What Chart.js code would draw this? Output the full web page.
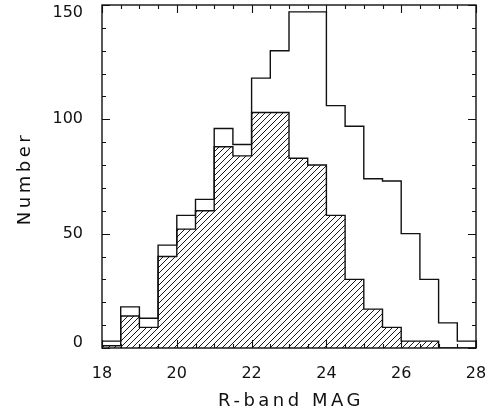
<!DOCTYPE html>
<html>
<head>
<meta charset="utf-8">
<script src="https://cdn.jsdelivr.net/npm/chart.js@4.4.1/dist/chart.umd.min.js"></script>
<style>
  html, body { margin: 0; padding: 0; background: #fff; }
  #wrap { width: 502px; height: 415px; }
</style>
</head>
<body>
<div id="wrap"><canvas id="magHist" width="502" height="415"></canvas></div>
<script>
// histogram bins, 0.5 mag wide
const binEdges = [18, 18.5, 19, 19.5, 20, 20.5, 21, 21.5, 22, 22.5, 23,
                  23.5, 24, 24.5, 25, 25.5, 26, 26.5, 27, 27.5, 28];
// whole sample (open outline)
const allCounts = [3, 18, 13, 45, 58, 65, 96, 89, 118, 130,
                   147, 147, 106, 97, 74, 73, 50, 30, 11, 3];
// sub-sample (hatched)
const hatchedCounts = [1, 14, 9, 40, 52, 60, 88, 84, 103, 103,
                       83, 80, 58, 30, 17, 9, 3, 3, 0, 0];

const xTicks = [18, 20, 22, 24, 26, 28];
const yTicks = [0, 50, 100, 150];
const xTitle = 'R-band MAG';
const yTitle = 'Number';

const INK = '#111';

// bin counts -> points for a stepped line (left edge of each bin)
function stepPoints(counts) {
    const last = binEdges.length - 1;
    const pts = [{ x: binEdges[0], y: 0 }];
    counts.forEach((c, i) => pts.push({ x: binEdges[i], y: c }));
    pts.push({ x: binEdges[last], y: counts[counts.length - 1] });
    pts.push({ x: binEdges[last], y: 0 });
    return pts;
}

function makeHatch() {
    const c = document.createElement('canvas');
    c.width = 6; c.height = 6;
    const g = c.getContext('2d');
    g.strokeStyle = '#000';
    g.lineWidth = 0.9;
    g.beginPath();
    g.moveTo(0, 6); g.lineTo(6, 0);
    g.moveTo(-1, 1); g.lineTo(1, -1);
    g.moveTo(5, 7); g.lineTo(7, 5);
    g.stroke();
    return g.createPattern(c, 'repeat');
}

// IDL style box: frame, inward ticks on all four sides, y labels, axis titles
const idlFrame = {
    id: 'idlFrame',
    afterDatasetsDraw(chart) {
        const { ctx, chartArea: a, scales: { x, y } } = chart;
        ctx.save();
        ctx.strokeStyle = INK;
        ctx.lineWidth = 1.4;
        ctx.strokeRect(a.left, a.top, a.right - a.left, a.bottom - a.top);

        ctx.lineWidth = 1.1;
        ctx.beginPath();
        for (let v = x.min; v <= x.max + 1e-6; v += 0.5) {
            const len = Math.abs(v % 2) < 1e-6 ? 8 : 4;
            const px = Math.round(x.getPixelForValue(v)) + 0.5;
            ctx.moveTo(px, a.bottom); ctx.lineTo(px, a.bottom - len);
            ctx.moveTo(px, a.top); ctx.lineTo(px, a.top + len);
        }
        for (let v = y.min; v <= y.max + 1e-6; v += 10) {
            const len = v % 50 === 0 ? 8 : 4;
            const py = Math.round(y.getPixelForValue(v)) + 0.5;
            ctx.moveTo(a.left, py); ctx.lineTo(a.left + len, py);
            ctx.moveTo(a.right, py); ctx.lineTo(a.right - len, py);
        }
        ctx.stroke();

        // y tick labels, end ones pulled inside the box like the original
        ctx.fillStyle = INK;
        ctx.font = '16px "DejaVu Sans"';
        ctx.textAlign = 'right';
        ctx.textBaseline = 'middle';
        yTicks.forEach((v, i) => {
            let shift = 0;
            if (i === 0) shift = -5;
            if (i === yTicks.length - 1) shift = 8;
            ctx.fillText(String(v), a.left - 19, y.getPixelForValue(v) + shift);
        });

        ctx.font = '18px "DejaVu Sans"';
        ctx.letterSpacing = '3.5px';
        ctx.textAlign = 'center';
        ctx.textBaseline = 'alphabetic';
        ctx.fillText(xTitle, (a.left + a.right) / 2 + 2, 406);
        ctx.translate(30, (a.top + a.bottom) / 2 + 2);
        ctx.rotate(-Math.PI / 2);
        ctx.fillText(yTitle, 0, 0);
        ctx.restore();
    }
};

new Chart(document.getElementById('magHist'), {
    type: 'line',
    data: {
        datasets: [
            {
                label: 'hatched',
                data: stepPoints(hatchedCounts),
                stepped: 'before',
                borderColor: INK,
                borderWidth: 1.4,
                backgroundColor: makeHatch(),
                fill: 'origin',
                pointRadius: 0,
                tension: 0
            },
            {
                label: 'all',
                data: stepPoints(allCounts),
                stepped: 'before',
                borderColor: INK,
                borderWidth: 1.4,
                fill: false,
                pointRadius: 0,
                tension: 0
            }
        ]
    },
    options: {
        responsive: false,
        animation: false,
        layout: { padding: { top: 5, right: 26, left: 0, bottom: 0 } },
        plugins: { legend: { display: false }, tooltip: { enabled: false } },
        scales: {
            x: {
                type: 'linear',
                min: 18, max: 28,
                afterBuildTicks: s => { s.ticks = xTicks.map(v => ({ value: v })); },
                afterFit: s => { s.height = 67; s.paddingLeft = 0; s.paddingRight = 0; },
                grid: { display: false, drawTicks: false },
                border: { display: false },
                ticks: { color: INK, font: { family: 'DejaVu Sans', size: 16 }, padding: 16, maxRotation: 0 }
            },
            y: {
                type: 'linear',
                min: 0, max: 150,
                afterBuildTicks: s => { s.ticks = yTicks.map(v => ({ value: v })); },
                afterFit: s => { s.width = 102; s.paddingTop = 0; s.paddingBottom = 0; },
                grid: { display: false, drawTicks: false },
                border: { display: false },
                ticks: { display: false }
            }
        }
    },
    plugins: [idlFrame]
});
</script>
</body>
</html>
